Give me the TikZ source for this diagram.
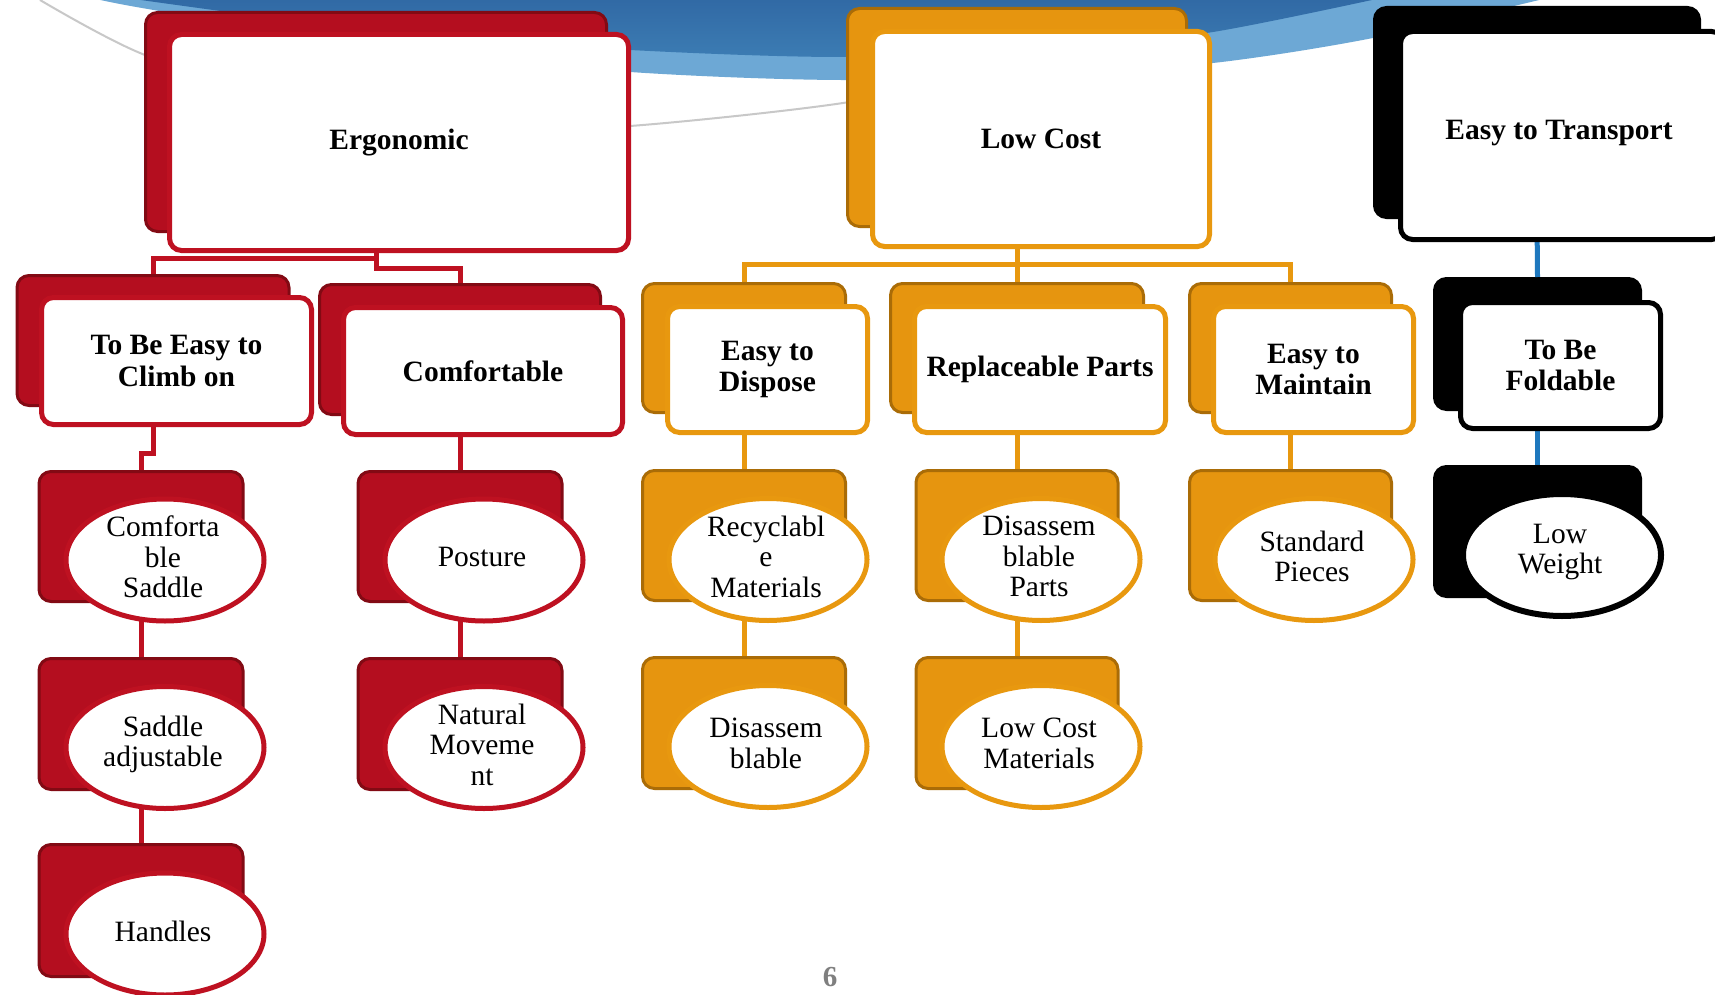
\documentclass[tikz,border=0pt]{standalone}
\usepackage{fontspec}
\setmainfont{Liberation Serif}
\usetikzlibrary{shapes.geometric,calc}
\definecolor{rfill}{HTML}{B40E1F}
\definecolor{rdark}{HTML}{820A14}
\definecolor{rline}{HTML}{BE1121}
\definecolor{ofill}{HTML}{E6950F}
\definecolor{odark}{HTML}{AA6C07}
\definecolor{oline}{HTML}{E8980F}
\definecolor{bline}{HTML}{1E78BE}
\definecolor{swtop}{HTML}{3068A4}
\definecolor{swdark}{HTML}{3C7CB3}
\definecolor{swlight}{HTML}{6DA8D5}
\definecolor{arcgray}{HTML}{C8C8C8}
\definecolor{pagegray}{HTML}{7F7F7F}
\newcommand{\boldlbl}{\fontsize{29.5}{31.5}\selectfont\bfseries}
\newcommand{\elllbl}{\fontsize{29.5}{30.5}\selectfont}
\tikzset{
  backR/.style={draw=rdark, fill=rfill, line width=3pt, rounded corners=12pt, inner sep=0pt},
  backO/.style={draw=odark, fill=ofill, line width=3pt, rounded corners=12pt, inner sep=0pt},
  backK/.style={draw=black, fill=black, line width=3pt, rounded corners=12pt, inner sep=0pt},
  frontR/.style={draw=rline, fill=white, line width=5pt, rounded corners=12pt, inner sep=0pt, font=\boldlbl, align=center},
  frontO/.style={draw=oline, fill=white, line width=5pt, rounded corners=12pt, inner sep=0pt, font=\boldlbl, align=center},
  frontK/.style={draw=black, fill=white, line width=5pt, rounded corners=12pt, inner sep=0pt, font=\boldlbl, align=center},
  ellR/.style={ellipse, draw=rline, fill=white, line width=5pt, inner sep=0pt, minimum width=198pt, minimum height=122pt},
  ellO/.style={ellipse, draw=oline, fill=white, line width=5pt, inner sep=0pt, minimum width=198pt, minimum height=122pt},
  ellK/.style={ellipse, draw=black, fill=white, line width=6pt, inner sep=0pt, minimum width=198pt, minimum height=122pt},
  elltext/.style={font=\elllbl, align=center, inner sep=0pt},
  conR/.style={draw=rline, line width=5pt},
  conO/.style={draw=oline, line width=5pt},
  conK/.style={draw=bline, line width=5pt},
}
\begin{document}
\begin{tikzpicture}[x=1pt, y=-1pt]
\useasboundingbox (0,0) rectangle (1715,995);
\clip (0,0) rectangle (1715,995);
\fill[white] (0,0) rectangle (1715,995);
% background swoosh
\fill[swlight] plot[smooth] coordinates {(80,-5) (142,8) (400,50) (630,72) (840,80) (1050,74) (1213,63) (1373,38) (1560,-5)} -- cycle;
\shade[top color=swtop, bottom color=swdark] plot[smooth] coordinates {(105,-5) (400,34) (630,50) (840,57) (1050,50) (1213,32) (1395,-5)} -- cycle;
\draw[arcgray, line width=2pt] plot[smooth] coordinates {(40,0) (140,53) (300,108) (500,128) (630,126) (843,103) (1000,70)};

% ---------- back boxes ----------
\node[backR, minimum width=461pt, minimum height=219pt] (ergB) at (376,122) {};
\node[backR, minimum width=272pt, minimum height=130pt] (tebB) at (153,340.5) {};
\node[backR, minimum width=281pt, minimum height=130pt] (comB) at (460,349.5) {};
\node[backR, minimum width=204pt, minimum height=130pt] (csB) at (141,536.5) {};
\node[backR, minimum width=204pt, minimum height=131pt] (saB) at (141,724) {};
\node[backR, minimum width=204pt, minimum height=132pt] (hdB) at (141,910.5) {};
\node[backR, minimum width=204pt, minimum height=130pt] (poB) at (460,536.5) {};
\node[backR, minimum width=204pt, minimum height=131pt] (nmB) at (460,724) {};

\node[backO, minimum width=339pt, minimum height=218pt] (lcB) at (1017,117.5) {};
\node[backO, minimum width=203pt, minimum height=129pt] (edB) at (744,348) {};
\node[backO, minimum width=253pt, minimum height=129pt] (rpB) at (1017,348) {};
\node[backO, minimum width=202pt, minimum height=129pt] (emB) at (1290.5,348) {};
\node[backO, minimum width=203pt, minimum height=130pt] (reB) at (744,535.5) {};
\node[backO, minimum width=202pt, minimum height=130pt] (dpB) at (1017,535.5) {};
\node[backO, minimum width=202pt, minimum height=130pt] (spB) at (1290.5,535.5) {};
\node[backO, minimum width=203pt, minimum height=131pt] (diB) at (744,723) {};
\node[backO, minimum width=202pt, minimum height=131pt] (lmB) at (1017,723) {};

\node[backK, minimum width=325pt, minimum height=210pt] (etB) at (1537,112.5) {};
\node[backK, minimum width=206pt, minimum height=131pt] (tfB) at (1537.5,344) {};
\node[backK, minimum width=206pt, minimum height=130pt] (lwB) at (1537.5,531.5) {};

% ---------- connectors ----------
\draw[conR] (ergB.south) -- ++(0,35) -| (comB.north);
\draw[conR] (tebB.north) |- ($(ergB.south)+(0,25)$);
\draw[conR] (tebB.south) -- ++(0,46) -| (csB.north);
\draw[conR] (csB.south) -- (saB.north);
\draw[conR] (saB.south) -- (hdB.north);
\draw[conR] (comB.south) -- (poB.north);
\draw[conR] (poB.south) -- (nmB.north);
\draw[conO] (lcB.south) -- (rpB.north);
\draw[conO] (edB.north) |- ($(lcB.south)+(0,36)$) -| (emB.north);
\draw[conO] (edB.south) -- (reB.north);
\draw[conO] (reB.south) -- (diB.north);
\draw[conO] (rpB.south) -- (dpB.north);
\draw[conO] (dpB.south) -- (lmB.north);
\draw[conO] (emB.south) -- (spB.north);
\draw[conK] (etB.south) -- (tfB.north);
\draw[conK] (tfB.south) -- (lwB.north);

% ---------- front boxes ----------
\node[frontR, minimum width=459pt, minimum height=216pt] (ergF) at (399,142.5) {Ergonomic};
\node[frontR, minimum width=270pt, minimum height=127pt] (tebF) at (176.5,361) {To Be Easy to\\Climb on};
\node[frontR, minimum width=279pt, minimum height=127pt] (comF) at (483,371) {Comfortable};
\node[frontO, minimum width=337pt, minimum height=215pt] (lcF) at (1041,139) {Low Cost};
\node[frontO, minimum width=200pt, minimum height=126pt] (edF) at (767.5,369.5) {Easy to\\Dispose};
\node[frontO, minimum width=251pt, minimum height=126pt] (rpF) at (1040,369.5) {Replaceable Parts};
\node[frontO, minimum width=200pt, minimum height=126pt] (emF) at (1313.5,369.5) {Easy to\\Maintain};
\node[frontK, minimum width=323pt, minimum height=208pt] (etF) at (1562,135.5) {};
\node[font=\boldlbl] (etT) at (1559,133) {Easy to Transport};
\node[frontK, minimum width=200pt, minimum height=126pt] (tfF) at (1560.5,365.5) {To Be\\Foldable};

% ---------- ellipses ----------
\node[ellR] (csE) at (165,560) {};
\node[elltext] (csT) at (163,557) {Comforta\\ble\\Saddle};
\node[ellR] (saE) at (165,747.5) {};
\node[elltext] (saT) at (163,744.5) {Saddle\\adjustable};
\node[ellR] (hdE) at (165,934) {};
\node[elltext] (hdT) at (163,931) {Handles};
\node[ellR] (poE) at (484,560) {};
\node[elltext] (poT) at (482,557) {Posture};
\node[ellR] (nmE) at (484,747.5) {};
\node[elltext] (nmT) at (482,744.5) {Natural\\Moveme\\nt};
\node[ellO] (reE) at (768,559.5) {};
\node[elltext] (reT) at (766,556.5) {Recyclabl\\e\\Materials};
\node[ellO] (dpE) at (1041,559.5) {};
\node[elltext] (dpT) at (1039,556.5) {Disassem\\blable\\Parts};
\node[ellO] (spE) at (1314,559.5) {};
\node[elltext] (spT) at (1312,556.5) {Standard\\Pieces};
\node[ellO] (diE) at (768,746.5) {};
\node[elltext] (diT) at (766,743.5) {Disassem\\blable};
\node[ellO] (lmE) at (1041,746.5) {};
\node[elltext] (lmT) at (1039,743.5) {Low Cost\\Materials};
\node[ellK] (lwE) at (1562,555) {};
\node[elltext] (lwT) at (1560,552) {Low\\Weight};

% page number
\node[font=\fontsize{29}{31}\selectfont\bfseries, text=pagegray] (pg) at (830,977) {6};
\end{tikzpicture}
\end{document}
